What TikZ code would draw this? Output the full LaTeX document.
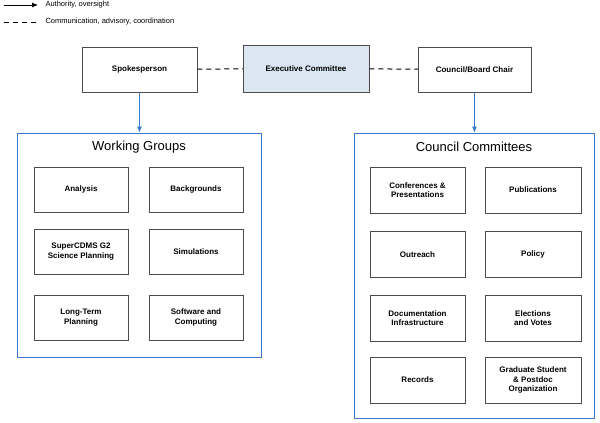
\documentclass[tikz,border=0pt]{standalone}
\usepackage{fontspec}
\setmainfont{Liberation Sans}
\usetikzlibrary{arrows.meta}
\definecolor{bl}{HTML}{3A78C9}
\definecolor{lb}{HTML}{DCE6F2}
\begin{document}
\begin{tikzpicture}[x=1pt,y=-1pt,
 box/.style={draw=black!70,line width=0.5pt,fill=white,align=center,font=\fontsize{8}{9.5}\selectfont\bfseries,inner sep=0pt},
 grp/.style={draw=bl,line width=0.9pt},
 auth/.style={-{Latex[length=6pt,width=5pt]},line width=0.8pt},
 barrow/.style={-{Latex[length=6pt,width=5pt]},draw=bl,line width=0.8pt},
 comm/.style={dashed,line width=1pt,dash pattern=on 5pt off 4pt}]
\useasboundingbox (0,0) rectangle (600,423);
% legend
\coordinate (la1) at (4,5); \coordinate (la2) at (38,5);
\draw[auth] (la1) -- (la2);
\node[anchor=west,font=\fontsize{7.5}{9}\selectfont] (lt1) at (42,5) {Authority, oversight};
\coordinate (lb1) at (4,22); \coordinate (lb2) at (38,22);
\draw[comm] (lb1) -- (lb2);
\node[anchor=west,font=\fontsize{7.5}{9}\selectfont] (lt2) at (42,22) {Communication, advisory, coordination};
% top
\node[box,minimum width=115,minimum height=45] (sp) at (139.5,69.5) {Spokesperson};
\node[box,fill=lb,minimum width=126,minimum height=47] (ec) at (306,68.5) {Executive Committee};
\node[box,minimum width=113,minimum height=45] (cc) at (474.5,69.5) {Council/Board Chair};
\draw[comm] (sp) -- (ec);
\draw[comm] (ec) -- (cc);
% groups
\node[grp,minimum width=244,minimum height=224,inner sep=0pt] (wg) at (139,245) {};
\node[font=\fontsize{13}{15}\selectfont] (wgt) at (139,147) {Working Groups};
\node[grp,minimum width=240,minimum height=285,inner sep=0pt] (ccm) at (474,275.5) {};
\node[font=\fontsize{13}{15}\selectfont] (cct) at (474,147) {Council Committees};
\draw[barrow] (sp.south) -- (sp.south |- wg.north);
\draw[barrow] (cc.south) -- (cc.south |- ccm.north);
% WG boxes
\tikzset{wb/.style={box,minimum width=94,minimum height=45}}
\node[wb] (a1) at (81,189.5) {Analysis};
\node[wb] (a2) at (196,189.5) {Backgrounds};
\node[wb] (a3) at (81,251.5) {SuperCDMS G2\\Science Planning};
\node[wb] (a4) at (196,251.5) {Simulations};
\node[wb] (a5) at (81,317.5) {Long-Term\\Planning};
\node[wb] (a6) at (196,317.5) {Software and\\Computing};
% CC boxes
\tikzset{cb/.style={box,minimum width=95,minimum height=46}}
\node[cb] (c1) at (417.5,190) {Conferences \&\\Presentations};
\node[cb,minimum width=96] (c2) at (533,190) {Publications};
\node[cb] (c3) at (417.5,254.5) {Outreach};
\node[cb,minimum width=96] (c4) at (533,254.5) {Policy};
\node[cb] (c5) at (417.5,318) {Documentation\\Infrastructure};
\node[cb,minimum width=96] (c6) at (533,318) {Elections\\and Votes};
\node[cb] (c7) at (417.5,380) {Records};
\node[cb,minimum width=96] (c8) at (533,380) {Graduate Student\\\& Postdoc\\Organization};
\end{tikzpicture}
\end{document}
